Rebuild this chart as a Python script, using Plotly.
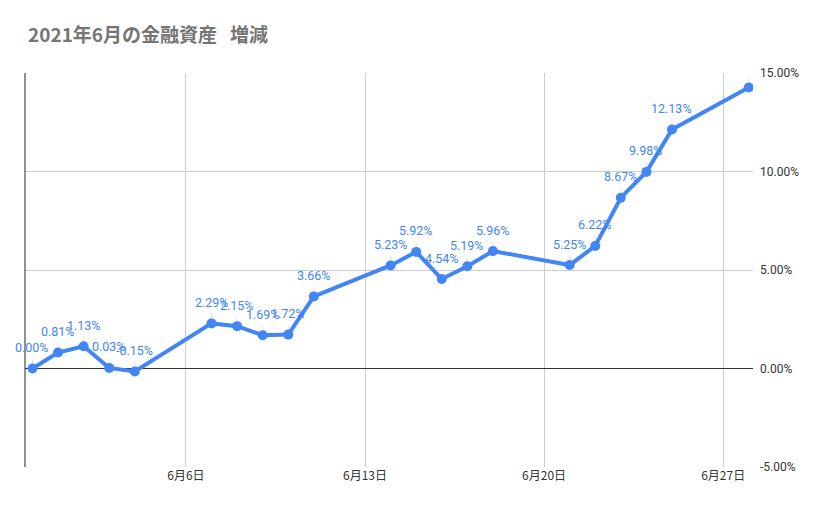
import plotly.graph_objects as go

dates = ["2021-05-31", "2021-06-01", "2021-06-02", "2021-06-03", "2021-06-04",
         "2021-06-07", "2021-06-08", "2021-06-09", "2021-06-10", "2021-06-11",
         "2021-06-14", "2021-06-15", "2021-06-16", "2021-06-17", "2021-06-18",
         "2021-06-21", "2021-06-22", "2021-06-23", "2021-06-24", "2021-06-25",
         "2021-06-28"]
values = [0.00, 0.81, 1.13, 0.03, -0.15,
          2.29, 2.15, 1.69, 1.72, 3.66,
          5.23, 5.92, 4.54, 5.19, 5.96,
          5.25, 6.22, 8.67, 9.98, 12.13,
          14.26]
labels = ["0.00%", "0.81%", "1.13%", "0.03%", "-0.15%",
          "2.29%", "2.15%", "1.69%", "1.72%", "3.66%",
          "5.23%", "5.92%", "4.54%", "5.19%", "5.96%",
          "5.25%", "6.22%", "8.67%", "9.98%", "12.13%",
          ""]
y_ticks = [-5, 0, 5, 10, 15]
y_tick_labels = ["-5.00%", "0.00%", "5.00%", "10.00%", "15.00%"]

BLUE = "#4285F4"
FONT = "Roboto, 'Noto Sans CJK JP', sans-serif"
CJK = "'Noto Sans CJK JP', sans-serif"

fig = go.Figure()
fig.add_trace(go.Scatter(
    x=dates, y=values, mode="lines+markers",
    line=dict(color=BLUE, width=4),
    marker=dict(color=BLUE, size=10),
    error_y=dict(type="constant", value=0.5, symmetric=False, valueminus=0,
                 color="#e3e3e3", thickness=1, width=0),
    hoverinfo="x+y",
))

annotations = [
    dict(x=d, y=v, text=t, showarrow=False, yshift=21, xanchor="center",
         yanchor="middle", font=dict(color=BLUE, size=12.5, family=FONT))
    for d, v, t in zip(dates, values, labels) if t
]

fig.update_layout(
    width=821, height=506,
    margin=dict(l=17, r=76, t=65, b=47),
    paper_bgcolor="white", plot_bgcolor="white",
    showlegend=False,
    title=dict(text="<b>2021年6月の金融資産\u00a0\u00a0\u00a0増減</b>", x=0.0244, xref="container",
               xanchor="left", y=0.945, yref="container", yanchor="middle",
               font=dict(size=19, color="#757575", family=CJK)),
    font=dict(family=FONT, color="#444"),
    xaxis=dict(
        type="date",
        range=["2021-05-30 17:00", "2021-06-28 04:00"],
        tick0="2021-06-06", dtick=7 * 24 * 3600 * 1000,
        tickformat="%-m月%-d日",
        showgrid=True, gridcolor="#cccccc", gridwidth=1,
        zeroline=False, showline=False, ticks="",
        tickfont=dict(size=12, color="#333", family=CJK),
    ),
    yaxis=dict(
        side="right", range=[-5, 15],
        tickvals=y_ticks, ticktext=y_tick_labels,
        showgrid=True, gridcolor="#cccccc", gridwidth=1,
        zeroline=True, zerolinecolor="#333333", zerolinewidth=1,
        showline=False, ticks="", ticklabelstandoff=6,
        tickfont=dict(size=12, color="#333", family=FONT),
    ),
    annotations=annotations,
    shapes=[dict(type="line", xref="paper", yref="paper", x0=0, x1=0, y0=0, y1=1,
                 line=dict(color="#222222", width=1), layer="above")],
)

fig.write_html("out.html")
